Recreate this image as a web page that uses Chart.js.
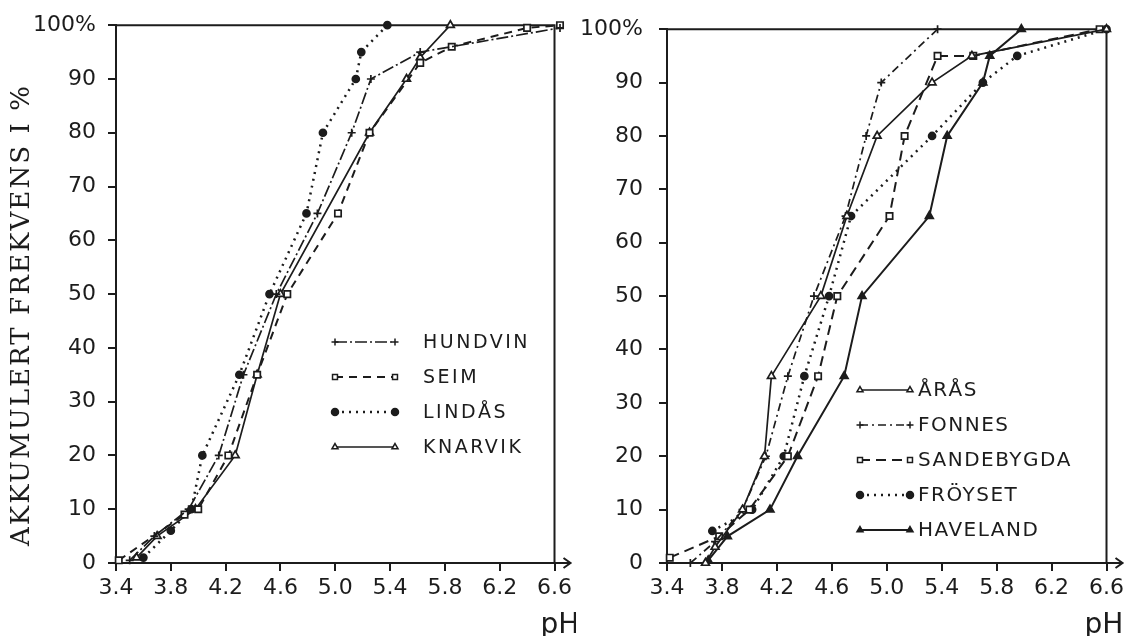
<!DOCTYPE html>
<html>
<head>
<meta charset="utf-8">
<script src="https://cdn.jsdelivr.net/npm/chart.js@4.4.1/dist/chart.umd.min.js"></script>
<style>
  html, body { margin: 0; padding: 0; background: #fff; }
  #wrap { position: relative; width: 1128px; height: 636px; }
  #leftBox { position: absolute; left: 0; top: 0; width: 576px; height: 636px; }
  #rightBox { position: absolute; left: 570px; top: 0; width: 558px; height: 636px; }
</style>
</head>
<body>
<div id="wrap">
  <div id="leftBox"><canvas id="leftChart"></canvas></div>
  <div id="rightBox"><canvas id="rightChart"></canvas></div>
</div>
<script>
// axis ticks shared by both panels
const phTicks = [3.4, 3.8, 4.2, 4.6, 5.0, 5.4, 5.8, 6.2, 6.6];
const pctTicks = [0, 10, 20, 30, 40, 50, 60, 70, 80, 90, 100];

// left panel
const hundvinPH  = [3.50, 3.68, 3.93, 4.15, 4.33, 4.57, 4.87, 5.12, 5.26, 5.62, 6.64];
const hundvinPct = [0.5, 5, 10, 20, 35, 50, 65, 80, 90, 95, 99.5];
const seimPH  = [3.42, 3.90, 4.00, 4.22, 4.43, 4.65, 5.02, 5.25, 5.62, 5.85, 6.40, 6.64];
const seimPct = [0.5, 9, 10, 20, 35, 50, 65, 80, 93, 96, 99.5, 100];
const lindasPH  = [3.60, 3.80, 3.95, 4.03, 4.30, 4.52, 4.79, 4.91, 5.15, 5.19, 5.38];
const lindasPct = [1, 6, 10, 20, 35, 50, 65, 80, 90, 95, 100];
const knarvikPH  = [3.55, 3.70, 3.98, 4.27, 4.43, 4.60, 5.25, 5.52, 5.62, 5.84];
const knarvikPct = [1, 5, 10, 20, 35, 50, 80, 90, 94, 100];

// right panel
const arasPH  = [3.68, 3.75, 3.95, 4.11, 4.16, 4.52, 4.71, 4.93, 5.33, 5.62, 6.60];
const arasPct = [0, 3, 10, 20, 35, 50, 65, 80, 90, 95, 100];
const fonnesPH  = [3.57, 3.75, 3.95, 4.12, 4.28, 4.47, 4.70, 4.85, 4.96, 5.37];
const fonnesPct = [0, 4, 10, 20, 35, 50, 65, 80, 90, 100];
const sandePH  = [3.42, 3.78, 4.00, 4.28, 4.50, 4.64, 5.02, 5.13, 5.37, 5.63, 6.55];
const sandePct = [1, 5, 10, 20, 35, 50, 65, 80, 95, 95, 100];
const froysetPH  = [3.73, 4.02, 4.25, 4.40, 4.58, 4.74, 5.33, 5.70, 5.95, 6.60];
const froysetPct = [6, 10, 20, 35, 50, 65, 80, 90, 95, 100];
const havelandPH  = [3.70, 3.84, 4.15, 4.35, 4.69, 4.82, 5.31, 5.44, 5.70, 5.75, 5.98];
const havelandPct = [0.5, 5, 10, 20, 35, 50, 65, 80, 90, 95, 100];

const ink = '#1c1c1c';
const sans = '"DejaVu Sans", sans-serif';

function pts(xs, ys) {
    return xs.map((x, i) => ({ x: x, y: ys[i] }));
}

function series(label, xs, ys, style) {
    return Object.assign({
        label: label,
        data: pts(xs, ys),
        showLine: true,
        tension: 0,
        clip: false,
        borderColor: ink,
        borderWidth: 1.7,
        borderDash: [],
        pointBorderColor: ink,
        pointBackgroundColor: '#fff',
        pointBorderWidth: 1.7,
        pointRadius: 4.5
    }, style);
}

// top and right frame lines, arrow on the pH axis, "pH" and the y title
const frame = {
    id: 'frame',
    beforeDatasetsDraw(chart, args, opts) {
        const { ctx, chartArea: a } = chart;
        ctx.save();
        ctx.strokeStyle = ink;
        ctx.lineWidth = 2;
        ctx.beginPath();
        ctx.moveTo(a.left, a.top);
        ctx.lineTo(a.right, a.top);
        ctx.lineTo(a.right, a.bottom);
        ctx.moveTo(a.right, a.bottom);
        ctx.lineTo(a.right + 16, a.bottom);
        ctx.moveTo(a.right + 9, a.bottom - 5);
        ctx.lineTo(a.right + 16, a.bottom);
        ctx.lineTo(a.right + 9, a.bottom + 5);
        ctx.stroke();

        ctx.fillStyle = ink;
        ctx.font = '28px "DejaVu Sans"';
        ctx.textBaseline = 'alphabetic';
        ctx.fillText('pH', a.right + opts.phDx, 633);

        if (opts.yTitle) {
            const t = opts.yTitle;
            ctx.font = '26px "DejaVu Serif"';
            const w = ctx.measureText(t).width;
            ctx.letterSpacing = ((opts.yTitleLen - w) / (t.length - 1)).toFixed(2) + 'px';
            ctx.translate(opts.yTitleX, opts.yTitleY);
            ctx.rotate(-Math.PI / 2);
            ctx.textAlign = 'center';
            ctx.textBaseline = 'middle';
            ctx.fillText(t, 0, 0);
        }
        ctx.restore();
    }
};

// legend drawn inside the plot area
const inlineLegend = {
    id: 'inlineLegend',
    afterDatasetsDraw(chart, args, opts) {
        const ctx = chart.ctx;
        chart.data.datasets.forEach((ds, i) => {
            const y = opts.y + i * opts.gap;
            ctx.save();
            ctx.strokeStyle = ink;
            ctx.lineWidth = ds.borderWidth;
            ctx.setLineDash(ds.borderDash || []);
            ctx.beginPath();
            ctx.moveTo(opts.x, y);
            ctx.lineTo(opts.x + opts.len, y);
            ctx.stroke();
            ctx.setLineDash([]);
            ctx.fillStyle = ds.pointBackgroundColor;
            ctx.lineWidth = 1.5;
            [opts.x, opts.x + opts.len].forEach(px => {
                Chart.helpers.drawPoint(ctx, { pointStyle: ds.pointStyle, radius: 3.5, borderWidth: 1.5, rotation: 0 }, px, y);
            });
            ctx.fillStyle = ink;
            ctx.font = opts.font;
            ctx.letterSpacing = opts.spacing;
            ctx.textBaseline = 'middle';
            ctx.fillText(ds.label, opts.textX, y + 1);
            ctx.restore();
        });
    }
};

function phAxis() {
    return {
        type: 'linear',
        min: 3.4,
        max: 6.6,
        afterBuildTicks: s => { s.ticks = phTicks.map(v => ({ value: v })); },
        afterFit: s => { s.height = 73; },
        border: { color: ink, width: 2 },
        grid: { drawOnChartArea: false, color: ink, lineWidth: 2, tickLength: 8 },
        ticks: {
            color: ink,
            font: { family: sans, size: 22 },
            padding: 4,
            maxRotation: 0,
            autoSkip: false,
            callback: v => v.toFixed(1)
        }
    };
}

function pctAxis(width, pad) {
    return {
        type: 'linear',
        min: 0,
        max: 100,
        afterBuildTicks: s => { s.ticks = pctTicks.map(v => ({ value: v })); },
        afterFit: s => { s.width = width; },
        border: { color: ink, width: 2 },
        grid: { drawOnChartArea: false, color: ink, lineWidth: 2, tickLength: 8 },
        ticks: {
            color: ink,
            font: { family: sans, size: 22 },
            padding: pad,
            callback: v => v === 100 ? '100%' : String(v)
        }
    };
}

function baseOptions(padding, yWidth, yPad, frameOpts, legend) {
    return {
        responsive: true,
        maintainAspectRatio: false,
        animation: false,
        layout: { padding: padding },
        scales: { x: phAxis(), y: pctAxis(yWidth, yPad) },
        plugins: {
            legend: { display: false },
            tooltip: { enabled: false },
            frame: frameOpts,
            inlineLegend: legend
        }
    };
}

new Chart(document.getElementById('leftChart'), {
    type: 'scatter',
    data: {
        datasets: [
            series('HUNDVIN', hundvinPH, hundvinPct, { pointStyle: 'cross', borderDash: [12, 3, 2, 3], pointRadius: 4 }),
            series('SEIM', seimPH, seimPct, { pointStyle: 'rect', borderDash: [8, 6], borderWidth: 2 }),
            series('LINDÅS', lindasPH, lindasPct, { pointStyle: 'circle', borderDash: [2, 5], borderWidth: 2.5, pointBackgroundColor: ink, pointRadius: 3.5 }),
            series('KNARVIK', knarvikPH, knarvikPct, { pointStyle: 'triangle' })
        ]
    },
    options: baseOptions({ top: 25, right: 20, bottom: 0, left: 0 }, 116, 12,
        { phDx: -14, yTitle: 'AKKUMULERT FREKVENS I %', yTitleX: 22, yTitleY: 315, yTitleLen: 460 },
        { x: 335, y: 342, gap: 35, len: 60, textX: 423, font: '19px "DejaVu Sans"', spacing: '2.5px' }),
    plugins: [frame, inlineLegend]
});

new Chart(document.getElementById('rightChart'), {
    type: 'scatter',
    data: {
        datasets: [
            series('ÅRÅS', arasPH, arasPct, { pointStyle: 'triangle' }),
            series('FONNES', fonnesPH, fonnesPct, { pointStyle: 'cross', borderDash: [8, 4, 2, 4], pointRadius: 4 }),
            series('SANDEBYGDA', sandePH, sandePct, { pointStyle: 'rect', borderDash: [10, 6], borderWidth: 2 }),
            series('FRÖYSET', froysetPH, froysetPct, { pointStyle: 'circle', borderDash: [2, 5], borderWidth: 2.5, pointBackgroundColor: ink, pointRadius: 3.5 }),
            series('HAVELAND', havelandPH, havelandPct, { pointStyle: 'triangle', borderWidth: 2, pointBackgroundColor: ink })
        ]
    },
    options: baseOptions({ top: 27, right: 21, bottom: 0, left: 0 }, 97, 16,
        { phDx: -22 },
        { x: 290, y: 390, gap: 35, len: 50, textX: 348, font: '20px "DejaVu Sans"', spacing: '1.5px' }),
    plugins: [frame, inlineLegend]
});
</script>
</body>
</html>
